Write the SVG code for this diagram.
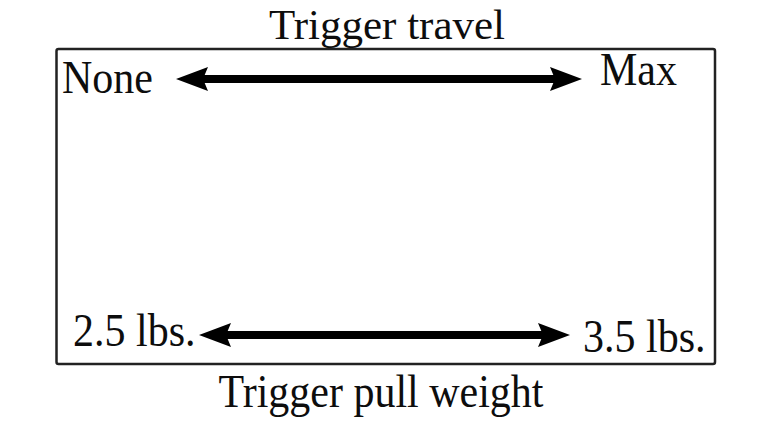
<svg xmlns="http://www.w3.org/2000/svg" width="770" height="424" viewBox="0 0 770 424">
  <style>
    .lbl { font-family: "Liberation Serif", "Times New Roman", serif; font-size: 42px; fill: #0d0d0d; }
    .frame { fill: none; stroke: #222; stroke-width: 2.5; }
    .arrow { stroke: #000; stroke-width: 8; fill: none; marker-start: url(#head); marker-end: url(#head); }
  </style>
  <defs>
    <marker id="head" viewBox="0 0 32 24" refX="5" refY="12" markerWidth="32" markerHeight="24" markerUnits="userSpaceOnUse" orient="auto-start-reverse">
      <path d="M0,0 L32,12 L0,24 L5,12 z" fill="#000"/>
    </marker>
  </defs>
  <rect width="770" height="424" fill="#fff"/>
  <g id="frame">
    <rect class="frame" x="56.5" y="49" width="658.5" height="315" rx="2"/>
  </g>
  <g id="title-top">
    <text class="lbl" x="387" y="39" text-anchor="middle" style="font-size:43px">Trigger travel</text>
  </g>
  <g id="title-bottom" transform="translate(381,407) scale(1,1.08)">
    <text class="lbl" x="0" y="0" text-anchor="middle">Trigger pull weight</text>
  </g>
  <g id="none" transform="translate(62,93) scale(1,1.08)">
    <text class="lbl" x="0" y="0">None</text>
  </g>
  <g id="max" transform="translate(600,85) scale(1,1.08)">
    <text class="lbl" x="0" y="0">Max</text>
  </g>
  <g id="low" transform="translate(73,346) scale(1,1.08)">
    <text class="lbl" x="0" y="0">2.5 lbs.</text>
  </g>
  <g id="high" transform="translate(583,352) scale(1,1.08)">
    <text class="lbl" x="0" y="0">3.5 lbs.</text>
  </g>
  <g id="connectors">
    <line class="arrow" x1="203" y1="79" x2="555" y2="79"/>
    <line class="arrow" x1="226" y1="335" x2="543" y2="335"/>
  </g>
</svg>
